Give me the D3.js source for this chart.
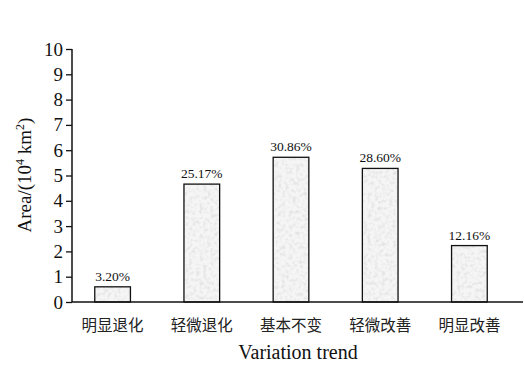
<!DOCTYPE html>
<html>
<head>
<meta charset="utf-8">
<script src="https://cdn.jsdelivr.net/npm/d3@7"></script>
<style>
  html, body { margin: 0; padding: 0; background: #fff; }
  svg { display: block; }
</style>
</head>
<body>
<svg id="chart" width="524" height="375"></svg>
<script>
// Area by variation trend (10^4 km²) with share of total
const categories = ["明显退化", "轻微退化", "基本不变", "轻微改善", "明显改善"];
const areaValues = [0.6, 4.66, 5.72, 5.28, 2.23];
const shareLabels = ["3.20%", "25.17%", "30.86%", "28.60%", "12.16%"];
const yTicks = [0, 1, 2, 3, 4, 5, 6, 7, 8, 9, 10];

const svg = d3.select("#chart");
const serif = "'Liberation Serif', 'Times New Roman', serif";
const cjk = "'Noto Sans CJK SC', sans-serif";

const y = d3.scaleLinear().domain([0, 10]).range([302, 49]);
const x = d3.scaleBand().domain(categories).range([68, 514]).paddingInner(0.6).paddingOuter(0.3);

// Grainy fill for the bars
const defs = svg.append("defs");
const f = defs.append("filter").attr("id", "grain")
  .attr("x", 0).attr("y", 0).attr("width", 1).attr("height", 1);
f.append("feTurbulence").attr("type", "fractalNoise")
  .attr("baseFrequency", "0.28").attr("numOctaves", 2).attr("seed", 4).attr("result", "noise");
f.append("feColorMatrix").attr("in", "noise").attr("type", "matrix")
  .attr("values", "0 0 0 0 0.5  0 0 0 0 0.5  0 0 0 0 0.5  -1.6 0 0 0 0.9").attr("result", "dots");
f.append("feComponentTransfer").attr("in", "dots").attr("result", "soft")
  .append("feFuncA").attr("type", "linear").attr("slope", 0.6).attr("intercept", 0);
f.append("feFlood").attr("flood-color", "#f5f5f5").attr("result", "bg");
f.append("feComposite").attr("in", "soft").attr("in2", "bg").attr("operator", "over").attr("result", "mix");
f.append("feComposite").attr("in", "mix").attr("in2", "SourceGraphic").attr("operator", "in");

const bars = svg.append("g");
bars.selectAll("rect.fill").data(areaValues).join("rect")
  .attr("class", "fill")
  .attr("x", (d, i) => x(categories[i]))
  .attr("y", d => y(d))
  .attr("width", x.bandwidth())
  .attr("height", d => y(0) - y(d))
  .attr("fill", "#fff")
  .attr("filter", "url(#grain)");
bars.selectAll("rect.edge").data(areaValues).join("rect")
  .attr("class", "edge")
  .attr("x", (d, i) => x(categories[i]))
  .attr("y", d => y(d))
  .attr("width", x.bandwidth())
  .attr("height", d => y(0) - y(d))
  .attr("fill", "none")
  .attr("stroke", "#111")
  .attr("stroke-width", 1.3);

// Share labels above bars
svg.append("g").selectAll("text").data(areaValues).join("text")
  .attr("x", (d, i) => x(categories[i]) + x.bandwidth() / 2)
  .attr("y", d => y(d) - 6)
  .attr("text-anchor", "middle")
  .attr("font-family", serif)
  .attr("font-size", 13.5)
  .attr("fill", "#111")
  .text((d, i) => shareLabels[i]);

// Y axis
const yAxis = svg.append("g").attr("transform", "translate(72,0)")
  .call(d3.axisLeft(y).tickValues(yTicks).tickSize(6).tickPadding(3).tickFormat(d3.format("d")));
yAxis.select(".domain").attr("stroke", "#111").attr("stroke-width", 1.5).attr("d", `M0,${y(10)}V${y(0)}`);
yAxis.selectAll(".tick line").attr("stroke", "#111").attr("stroke-width", 1.3);
yAxis.selectAll(".tick text").attr("font-family", serif).attr("font-size", 19).attr("fill", "#111");

// X axis baseline
svg.append("line")
  .attr("x1", 72).attr("x2", 523).attr("y1", y(0)).attr("y2", y(0))
  .attr("stroke", "#111").attr("stroke-width", 1.5);

// Category labels
svg.append("g").selectAll("text").data(categories).join("text")
  .attr("x", d => x(d) + x.bandwidth() / 2)
  .attr("y", 331)
  .attr("text-anchor", "middle")
  .attr("font-family", cjk)
  .attr("font-size", 15.5)
  .attr("fill", "#222")
  .text(d => d);

// Axis titles
svg.append("text")
  .attr("x", 298).attr("y", 359)
  .attr("text-anchor", "middle")
  .attr("font-family", serif).attr("font-size", 20).attr("fill", "#111")
  .text("Variation trend");

const yt = svg.append("text")
  .attr("transform", "translate(31,175) rotate(-90)")
  .attr("text-anchor", "middle")
  .attr("font-family", serif).attr("font-size", 19).attr("fill", "#111");
yt.append("tspan").text("Area/(10");
yt.append("tspan").attr("dy", -7).attr("font-size", 12).text("4");
yt.append("tspan").attr("dy", 7).text(" km");
yt.append("tspan").attr("dy", -7).attr("font-size", 12).text("2");
yt.append("tspan").attr("dy", 7).text(")");
</script>
</body>
</html>
